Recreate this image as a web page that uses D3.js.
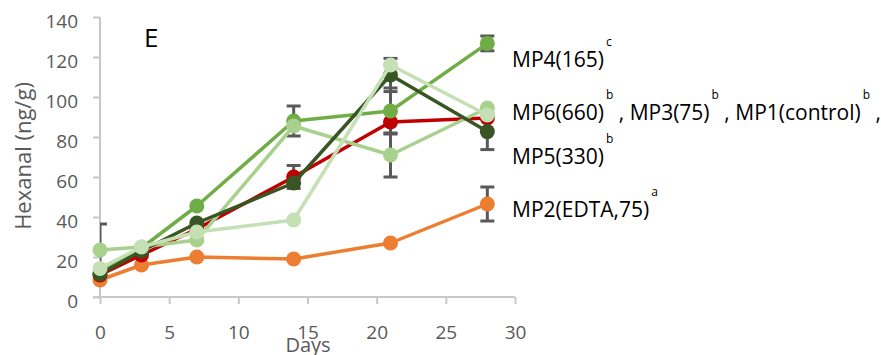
<!DOCTYPE html>
<html>
<head>
<meta charset="utf-8">
<script src="https://cdn.jsdelivr.net/npm/d3@7"></script>
<style>
  body { margin: 0; background: #fff; }
  text { font-family: "Open Sans", sans-serif; }
</style>
</head>
<body>
<div class="content"></div>
<script>
////////// data /////////
var days = [0, 3, 7, 14, 21, 28];

// series in drawing order (bottom first)
var seriesNames = ['MP2', 'MP1', 'MP4', 'MP5', 'MP6', 'MP3'];
var seriesColors = ['#ED7D31', '#C00000', '#70AD47', '#A9D18E', '#375623', '#C5E0B4'];
var mp2 = [8.5, 16, 20, 19, 27, 46.5];
var mp1 = [11, 21, 34, 60, 87.5, 89.5];
var mp4 = [12, 24.5, 45.5, 88, 93, 126.8];
var mp5 = [23.5, 25, 28.5, 85.5, 71, 94.5];
var mp6 = [11.5, 23, 37, 57, 111, 82.7];
var mp3 = [14.3, 25, 32.5, 38.5, 116, 91];

// error bars (+/-), 0 = none
var mp2Err = [0, 0, 0, 0, 0, 8.5];
var mp1Err = [0, 0, 0, 5.75, 0, 0];
var mp4Err = [0, 0, 0, 7.5, 11.5, 3.7];
var mp5Err = [13, 0, 0, 0, 11, 0];
var mp6Err = [0, 0, 0, 0, 8.3, 9];
var mp3Err = [0, 0, 0, 0, 0, 0];

var yTicks = [0, 20, 40, 60, 80, 100, 120, 140];
var xTicks = [0, 5, 10, 15, 20, 25, 30];

// legend lines: [text, superscript]
var legendLines = [
  [['MP4(165)', 'c']],
  [['MP6(660)', 'b'], [' , MP3(75)', 'b'], [' , MP1(control)', 'b'], [' ,', '']],
  [['MP5(330)', 'b']],
  [['MP2(EDTA,75)', 'a']]
];
var legendBaselines = [67, 120, 164, 217];

var values = [mp2, mp1, mp4, mp5, mp6, mp3];
var errors = [mp2Err, mp1Err, mp4Err, mp5Err, mp6Err, mp3Err];

////////// svg /////////
var svg = d3.select('.content').append('svg')
  .attr('width', 881)
  .attr('height', 355);

var x = d3.scaleLinear().domain([0, 30]).range([100, 515]);
var y = d3.scaleLinear().domain([0, 140]).range([297, 17]);

// y axis
var yAxis = svg.append('g')
  .attr('transform', 'translate(100,0)')
  .call(d3.axisLeft(y).tickValues(yTicks).tickSize(7).tickPadding(15));
yAxis.selectAll('text')
  .style('font-size', '19px')
  .style('fill', '#595959')
  .attr('dy', '0.55em');

// x axis
var xAxis = svg.append('g')
  .attr('transform', 'translate(0,297)')
  .call(d3.axisBottom(x).tickValues(xTicks).tickSize(7).tickPadding(22));
xAxis.selectAll('text')
  .style('font-size', '19px')
  .style('fill', '#595959');

svg.selectAll('.domain, .tick line')
  .attr('stroke', '#C8C8C8')
  .attr('stroke-width', 2);
yAxis.select('.domain').attr('d', 'M0,17V297');
xAxis.select('.domain').attr('d', 'M93,0H515');

// axis titles
svg.append('text')
  .attr('x', 308)
  .attr('y', 352)
  .attr('text-anchor', 'middle')
  .style('font-size', '20px')
  .style('fill', '#595959')
  .text('Days');

svg.append('text')
  .attr('transform', 'translate(31,156) rotate(-90)')
  .attr('text-anchor', 'middle')
  .style('font-size', '22px')
  .style('fill', '#595959')
  .text('Hexanal (ng/g)');

svg.append('text')
  .attr('x', 144)
  .attr('y', 47)
  .style('font-size', '26px')
  .style('fill', '#000')
  .text('E');

// error bars (clipped at the y axis)
svg.append('clipPath').attr('id', 'plotclip')
  .append('rect').attr('x', 100).attr('y', 0).attr('width', 781).attr('height', 355);

var errData = [];
values.forEach(function(v, s) {
  v.forEach(function(d, i) {
    if (errors[s][i] > 0) errData.push({ x: days[i], y: d, e: errors[s][i] });
  });
});

var eb = svg.append('g').attr('clip-path', 'url(#plotclip)')
  .selectAll('g').data(errData).enter().append('g')
  .attr('stroke', '#595959')
  .attr('stroke-width', 3);
eb.append('line')
  .attr('x1', function(d) { return x(d.x); })
  .attr('x2', function(d) { return x(d.x); })
  .attr('y1', function(d) { return y(d.y + d.e); })
  .attr('y2', function(d) { return y(d.y - d.e); });
eb.append('line')
  .attr('x1', function(d) { return x(d.x) - 7; })
  .attr('x2', function(d) { return x(d.x) + 7; })
  .attr('y1', function(d) { return y(d.y + d.e); })
  .attr('y2', function(d) { return y(d.y + d.e); });
eb.append('line')
  .attr('x1', function(d) { return x(d.x) - 7; })
  .attr('x2', function(d) { return x(d.x) + 7; })
  .attr('y1', function(d) { return y(d.y - d.e); })
  .attr('y2', function(d) { return y(d.y - d.e); });

// series
var line = d3.line()
  .x(function(d, i) { return x(days[i]); })
  .y(function(d) { return y(d); });

values.forEach(function(v, s) {
  var g = svg.append('g').attr('class', 'series ' + seriesNames[s]);
  g.append('path')
    .attr('d', line(v))
    .attr('fill', 'none')
    .attr('stroke', seriesColors[s])
    .attr('stroke-width', 3.5)
    .attr('stroke-linejoin', 'round');
  g.selectAll('circle').data(v).enter().append('circle')
    .attr('cx', function(d, i) { return x(days[i]); })
    .attr('cy', function(d) { return y(d); })
    .attr('r', 7.5)
    .attr('fill', seriesColors[s]);
});

// legend labels
legendLines.forEach(function(parts, li) {
  var t = svg.append('text')
    .attr('x', 512)
    .attr('y', legendBaselines[li])
    .style('font-size', '21px')
    .style('fill', '#000');
  parts.forEach(function(p, pi) {
    t.append('tspan')
      .attr('dy', pi === 0 ? 0 : 21)
      .text(p[0]);
    if (p[1]) {
      t.append('tspan')
        .attr('dx', 2)
        .attr('dy', -21)
        .style('font-size', '12px')
        .text(p[1]);
    } else {
      t.append('tspan').attr('dy', -21).text('');
    }
  });
});
</script>
</body>
</html>
